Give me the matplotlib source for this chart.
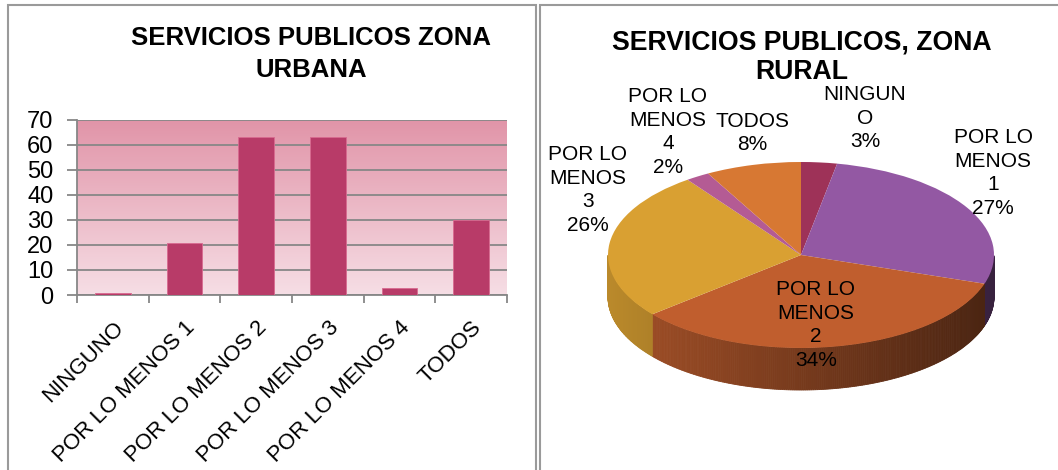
import numpy as np
import matplotlib
matplotlib.use("Agg")
import matplotlib.pyplot as plt
from matplotlib.patches import Rectangle, Polygon
from matplotlib.colors import to_rgb

plt.rcParams['font.family'] = ['Liberation Sans', 'DejaVu Sans']

# datos
categorias = ['NINGUNO', 'POR LO MENOS 1', 'POR LO MENOS 2', 'POR LO MENOS 3', 'POR LO MENOS 4', 'TODOS']
urbana = [1, 21, 63, 63, 3, 30]
rural = [3, 27, 34, 26, 2, 8]
etiquetas_rural = ['NINGUN\nO', 'POR LO\nMENOS\n1', 'POR LO\nMENOS\n2', 'POR LO\nMENOS\n3', 'POR LO\nMENOS\n4', 'TODOS']
colores_rural = ['#9E3258', '#9358A3', '#C05E2E', '#D9A032', '#B45B94', '#D77833']

W, H = 1058, 470
fig = plt.figure(figsize=(W / 100, H / 100), dpi=100)

def px(x0, y0, w, h):
    return [x0 / W, 1 - (y0 + h) / H, w / W, h / H]

# marcos
fig.patches.append(Rectangle((8 / W, -0.1), (536 - 8) / W, 1.1 - 5 / H, transform=fig.transFigure,
                             fill=False, ec='#9a9a9a', lw=1.5))
fig.patches.append(Rectangle((540 / W, -0.1), 1.0, 1.1 - 5 / H, transform=fig.transFigure,
                             fill=False, ec='#9a9a9a', lw=1.5))

# ---------- barras zona urbana ----------
ax = fig.add_axes(px(77, 120, 430, 175))
x = np.arange(len(categorias))
grad = np.linspace(0, 1, 256).reshape(-1, 1)
top_c = np.array(to_rgb('#E194A8'))
bot_c = np.array(to_rgb('#F6DEE5'))
img = top_c * (1 - grad[..., None]) + bot_c * grad[..., None]
ax.imshow(img, extent=(-0.5, 5.5, 0, 70), aspect='auto', zorder=0, origin='upper')
ax.bar(x, urbana, width=0.5, color='#B83B68', edgecolor='#D86A90', linewidth=0.6, zorder=3)
ax.set_xlim(-0.5, 5.5)
ax.set_ylim(0, 70)
ax.set_yticks(range(0, 71, 10))
ax.yaxis.grid(True, color='#878787', linewidth=1.3, zorder=1)
ax.set_axisbelow(True)
for s in ['top', 'right']:
    ax.spines[s].set_visible(False)
for s in ['left', 'bottom']:
    ax.spines[s].set_color('#878787')
    ax.spines[s].set_linewidth(1.3)
ax.tick_params(axis='y', length=7, width=1.3, color='#878787', labelsize=17, pad=10)
ax.set_xticks(np.arange(-0.5, 6, 1))
ax.set_xticklabels([])
ax.tick_params(axis='x', which='major', length=6, width=1.3, color='#878787')
ax.set_xticks(x, minor=True)
ax.set_xticklabels(categorias, minor=True, rotation=45, ha='right', rotation_mode='anchor',
                   fontsize=16)
ax.tick_params(axis='x', which='minor', length=0, pad=16)
fig.text(311 / W, 1 - 54 / H, 'SERVICIOS PUBLICOS ZONA\nURBANA', ha='center', va='center',
         fontsize=18.5, fontweight='bold', linespacing=1.45)

# ---------- pastel 3D zona rural ----------
cx, cy_px, a, b, prof = 801, 255, 193, 93, 42
r = b / a
axp = fig.add_axes([540 / W, 0, (W - 540) / W, 1])
cy = (H - cy_px) / r
d = prof / r

total = sum(rural)
lims = 90 - 360 * np.cumsum([0] + rural) / total
# pared lateral (parte frontal)
for i, c in enumerate(colores_rural):
    t2, t1 = lims[i], lims[i + 1]
    ts = np.linspace(t1, t2, 200) % 360
    base = np.array(to_rgb(c))
    for k in range(len(ts) - 1):
        ta, tb = ts[k], ts[k + 1]
        if tb < ta:
            continue
        if not (180 <= ta <= 360 and 180 <= tb <= 360):
            continue
        ra, rb = np.radians(ta), np.radians(tb)
        xa, ya = cx + a * np.cos(ra), cy + a * np.sin(ra)
        xb, yb = cx + a * np.cos(rb), cy + a * np.sin(rb)
        f = 0.62 - 0.24 * np.cos((ra + rb) / 2)
        axp.add_patch(Polygon([(xa, ya), (xb, yb), (xb, yb - d), (xa, ya - d)],
                              closed=True, fc=base * f, ec=base * f, lw=0.6, zorder=1))

axp.pie(rural, colors=colores_rural, startangle=90, counterclock=False, radius=a,
        center=(cx, cy), frame=True, wedgeprops=dict(linewidth=0, zorder=2))
axp.set_xlim(540, W)
axp.set_ylim(0, H / r)
axp.set_aspect('auto')
axp.axis('off')

# posiciones de etiquetas (px relativos al centro)
pos_etq = [(64, -137), (192, -82), (15, 70), (-213, -65), (-133, -123), (-49, -122)]
for et, v, (dx, dy) in zip(etiquetas_rural, rural, pos_etq):
    axp.text(cx + dx, cy - dy / r, '%s\n%d%%' % (et, v), ha='center', va='center',
             fontsize=15, linespacing=1.3, zorder=5)

fig.text(802 / W, 1 - 57 / H, 'SERVICIOS PUBLICOS, ZONA\nRURAL', ha='center', va='center',
         fontsize=19.2, fontweight='bold', linespacing=1.2)

fig.savefig('out.png', dpi=100)
